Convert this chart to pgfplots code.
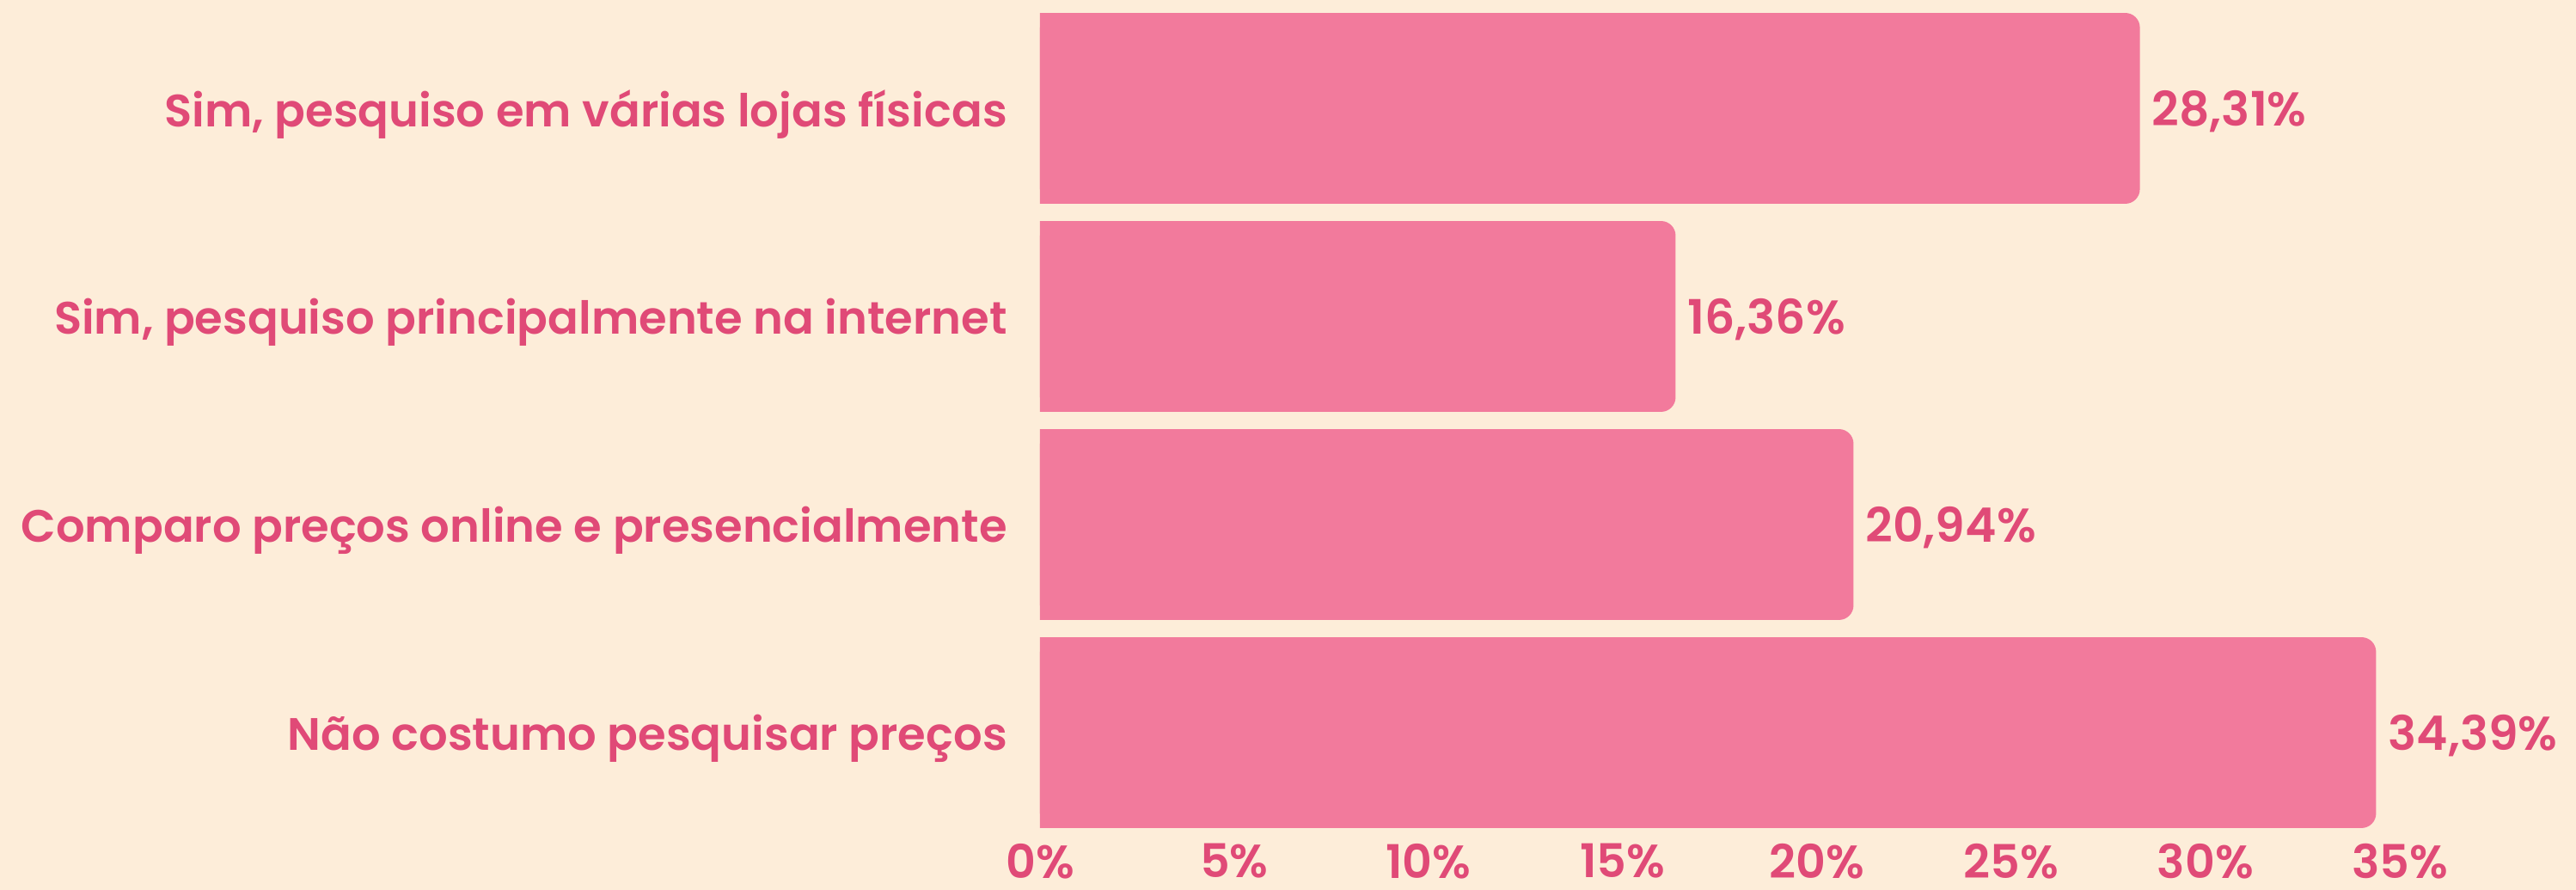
\documentclass[border=0pt]{standalone}
\usepackage{pgfplots}
\usepackage{pgfplotstable}
\pgfplotsset{compat=1.18}
\usepackage{fontspec}
\setmainfont{Poppins}[BoldFont={Poppins SemiBold}]
\definecolor{bg}{HTML}{FDEDD9}
\definecolor{barc}{HTML}{F27A9C}
\definecolor{txt}{HTML}{E04A77}
\pgfplotstableread{
y x
0 34.39
1 20.94
2 16.36
3 28.31
}\datatab
\begin{document}
\begin{tikzpicture}[x=1pt,y=1pt]
\path[fill=bg, use as bounding box] (-302.5pt,-15.5pt) rectangle (446.75pt,243.25pt);
\begin{axis}[
  at={(0pt,0pt)}, anchor=south west,
  scale only axis,
  width=395.5pt, height=242pt,
  xmin=0, xmax=35, ymin=-0.5, ymax=3.5,
  axis line style={draw=none},
  major tick length=0pt,
  xtick={0,5,...,35},
  xticklabel={\pgfmathprintnumber{\tick}\%},
  ytick={0,1,2,3},
  yticklabels={{Não costumo pesquisar preços}, {Comparo preços online e presencialmente}, {Sim, pesquiso principalmente na internet}, {Sim, pesquiso em várias lojas físicas}},
  yticklabel style={xshift=-6pt, yshift=-1.8pt, font=\fontsize{13.2}{16}\selectfont\bfseries},
  xticklabel style={yshift=1.5pt, font=\fontsize{13.5}{16}\selectfont\bfseries},
  tick label style={text=txt},
  /pgf/number format/assume math mode=true,
  xbar, bar width=0.917, bar shift=0pt,
  clip=false,
]
\addplot[fill=barc, draw=none, rounded corners=4.25pt,
  nodes near coords={\pgfmathprintnumber[fixed,fixed zerofill,precision=2,use comma,assume math mode=true]{\pgfplotspointmeta}\%},
  point meta=x,
  every node near coord/.append style={anchor=west, yshift=-1pt, font=\fontsize{13.8}{16}\selectfont\bfseries, text=txt}]
  table[x=x,y=y]{\datatab};
\addplot[fill=barc, draw=none, forget plot, x filter/.expression={min(x,5)}]
  table[x=x,y=y]{\datatab};
\end{axis}
\end{tikzpicture}
\end{document}
